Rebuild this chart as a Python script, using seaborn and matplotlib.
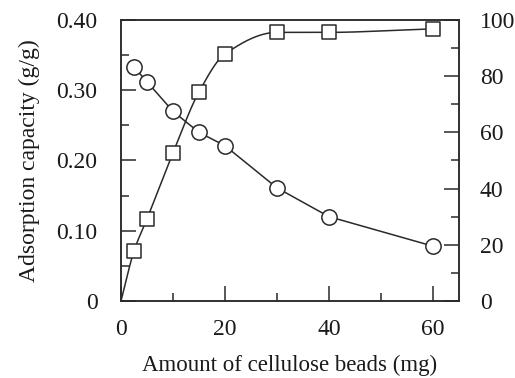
import numpy as np
import pandas as pd
import matplotlib
matplotlib.use("Agg")
import matplotlib.pyplot as plt
import seaborn as sns
from matplotlib.ticker import MultipleLocator

sns.set_style("ticks")
plt.rcParams['font.family'] = ['Liberation Serif', 'DejaVu Serif']

# Data
amount_mg = [2.5, 5, 10, 15, 20, 30, 40, 60]
adsorption_capacity = [0.333, 0.312, 0.270, 0.240, 0.221, 0.161, 0.120, 0.078]
removal_pct = [17.8, 29.2, 52.7, 74.4, 87.9, 95.6, 95.6, 96.8]

left_ticks = [0, 0.10, 0.20, 0.30, 0.40]
left_labels = ["0", "0.10", "0.20", "0.30", "0.40"]
right_ticks = [0, 20, 40, 60, 80, 100]
x_ticks = [0, 20, 40, 60]


def pchip(x, y, xs):
    x = np.asarray(x, float); y = np.asarray(y, float)
    h = np.diff(x); d = np.diff(y) / h
    n = len(x); m = np.zeros(n)
    for k in range(1, n - 1):
        if d[k - 1] * d[k] > 0:
            w1 = 2 * h[k] + h[k - 1]; w2 = h[k] + 2 * h[k - 1]
            m[k] = (w1 + w2) / (w1 / d[k - 1] + w2 / d[k])
    m[0] = d[0]; m[-1] = d[-1] * 0.5
    idx = np.clip(np.searchsorted(x, xs) - 1, 0, n - 2)
    t = (xs - x[idx]) / h[idx]
    h00 = 2*t**3 - 3*t**2 + 1; h10 = t**3 - 2*t**2 + t
    h01 = -2*t**3 + 3*t**2; h11 = t**3 - t**2
    return h00*y[idx] + h10*h[idx]*m[idx] + h01*y[idx+1] + h11*h[idx]*m[idx+1]


fig = plt.figure(figsize=(5.15, 3.78), dpi=100)
ax = fig.add_axes([0.235, 0.204, 0.656, 0.743])
ax2 = ax.twinx()

df = pd.DataFrame({"amount": amount_mg, "cap": adsorption_capacity, "rem": removal_pct})

ink = "#2a2a2a"

# Adsorption capacity (circles)
sns.lineplot(data=df, x="amount", y="cap", ax=ax, color=ink, lw=1.1,
             marker="o", markersize=11, markerfacecolor="white",
             markeredgecolor=ink, markeredgewidth=1.1, zorder=3)

# Removal (squares) with smooth curve from origin
xs_fit = np.concatenate([[0.0], amount_mg])
ys_fit = np.concatenate([[0.0], removal_pct])
xx = np.linspace(0, 60, 400)
yy = pchip(xs_fit, ys_fit, xx)
curve = pd.DataFrame({"x": xx, "y": yy})
sns.lineplot(data=curve, x="x", y="y", ax=ax2, color=ink, lw=1.1, zorder=2)
sns.scatterplot(data=df, x="amount", y="rem", ax=ax2, marker="s", s=110,
                facecolor="white", edgecolor=ink, linewidth=1.1, zorder=3)

ax.set_xlim(0, 65)
ax.set_ylim(0, 0.40)
ax2.set_ylim(0, 100)
ax.set_xticks(x_ticks)
ax.xaxis.set_minor_locator(MultipleLocator(10))
ax.set_yticks(left_ticks)
ax.set_yticklabels(left_labels)
ax.yaxis.set_minor_locator(MultipleLocator(0.05))
ax2.set_yticks(right_ticks)
ax2.yaxis.set_minor_locator(MultipleLocator(10))

for a in (ax, ax2):
    for s in a.spines.values():
        s.set_color(ink); s.set_linewidth(1.1)
        s.set_visible(True)

ax.tick_params(axis="both", which="major", direction="in", length=11, width=1.1,
               color=ink, labelsize=17, pad=17, labelcolor="#1a1a1a")
ax.tick_params(axis="both", which="minor", direction="in", length=6, width=1.1,
               color=ink)
ax.tick_params(axis="x", which="major", pad=13)
ax2.tick_params(axis="y", which="major", direction="in", length=11, width=1.1,
                color=ink, labelsize=17, pad=15, labelcolor="#1a1a1a")
ax2.tick_params(axis="y", which="minor", direction="in", length=6, width=1.1,
                color=ink)

ax.set_xlabel("Amount of cellulose beads (mg)", fontsize=16.5, color="#1a1a1a", labelpad=11)
ax.set_ylabel("Adsorption capacity (g/g)", fontsize=17, color="#1a1a1a", labelpad=12)
ax2.set_ylabel("")
ax2.set_xlabel("")

fig.savefig("out.png", dpi=100)
